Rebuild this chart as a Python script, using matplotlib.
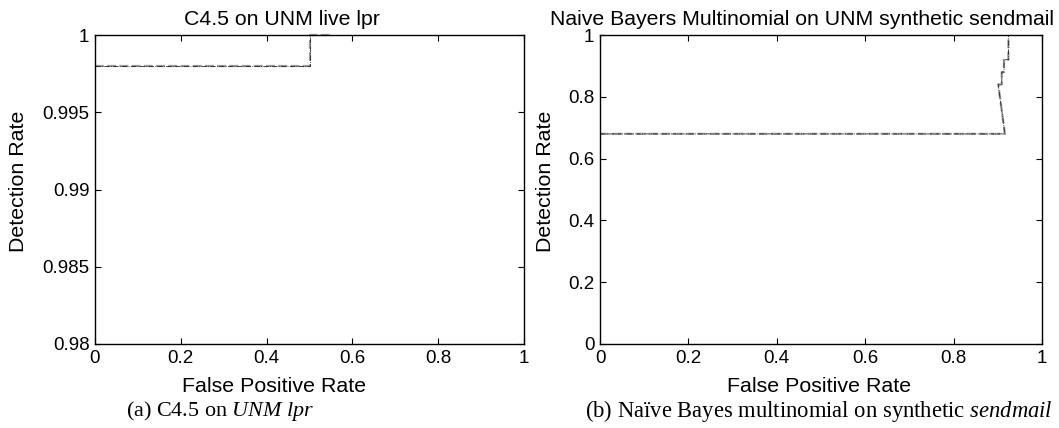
import matplotlib.pyplot as plt

plt.rcParams["font.family"] = ["Liberation Sans", "DejaVu Sans"]
plt.rcParams["mathtext.fontset"] = "custom"
plt.rcParams["mathtext.rm"] = "Liberation Serif"
plt.rcParams["mathtext.it"] = "Liberation Serif:italic"

# (a) C4.5 on UNM lpr
lpr_fpr = [0.0, 0.5, 0.5, 0.55]
lpr_tpr = [0.998, 0.998, 1.0, 1.0]
lpr_yticks = [0.98, 0.985, 0.99, 0.995, 1.0]
lpr_yticklabels = ["0.98", "0.985", "0.99", "0.995", "1"]

# (b) Naive Bayes multinomial on synthetic sendmail
smail_fpr = [0.0, 0.916, 0.901, 0.909, 0.909, 0.914, 0.914, 0.924, 0.924]
smail_tpr = [0.68, 0.68, 0.84, 0.84, 0.88, 0.88, 0.92, 0.92, 1.0]
smail_yticks = [0, 0.2, 0.4, 0.6, 0.8, 1.0]
smail_yticklabels = ["0", "0.2", "0.4", "0.6", "0.8", "1"]

xticks = [0, 0.2, 0.4, 0.6, 0.8, 1.0]
xticklabels = ["0", "0.2", "0.4", "0.6", "0.8", "1"]

W, H = 1059, 428
fig = plt.figure(figsize=(W / 100, H / 100), dpi=100)
ax1 = fig.add_axes([95 / W, 1 - 344 / H, 429 / W, 309 / H])
ax2 = fig.add_axes([600 / W, 1 - 344 / H, 442 / W, 309 / H])


def style_axes(ax, yticks, yticklabels, ylim, title, title_x, xlab_x, ylab_x):
    ax.set_xlim(0, 1)
    ax.set_ylim(*ylim)
    ax.set_xticks(xticks)
    ax.set_xticklabels(xticklabels)
    ax.set_yticks(yticks)
    ax.set_yticklabels(yticklabels)
    ax.tick_params(direction="in", top=True, right=True, length=4,
                   labelsize=13.5, pad=4, width=0.8)
    for sp in ax.spines.values():
        sp.set_linewidth(1.0)
    ax.set_title(title, fontsize=15.3, x=title_x, pad=7.5)
    ax.set_xlabel("False Positive Rate", fontsize=15.4)
    ax.set_ylabel("Detection Rate", fontsize=15.4)
    ax.xaxis.label.set_va("center")
    ax.yaxis.label.set_va("center")
    ax.xaxis.set_label_coords(xlab_x, -(387 - 344) / 309)
    ax.yaxis.set_label_coords(ylab_x, 0.527)


def draw_curve(ax, x, y):
    ax.plot(x, y, color="#9a9a9a", linestyle=(0, (4, 1.5)), linewidth=1.6,
            clip_on=False)
    ax.plot(x, y, color="#222222", linestyle="-.", linewidth=0.6,
            clip_on=False)


draw_curve(ax1, lpr_fpr, lpr_tpr)
style_axes(ax1, lpr_yticks, lpr_yticklabels, (0.98, 1.0),
           "C4.5 on UNM live lpr", 0.435, 0.418, -0.178)

draw_curve(ax2, smail_fpr, smail_tpr)
style_axes(ax2, smail_yticks, smail_yticklabels, (0, 1.0),
           "Naive Bayers Multinomial on UNM synthetic sendmail", 0.458, 0.496,
           -0.124)

captions = [
    ("(a) C4.5 on $\\mathit{UNM\\ lpr}$", 220, 189),
    ("(b) Naïve Bayes multinomial on synthetic $\\mathit{sendmail}$", 819, 470),
]
renderer = fig.canvas.get_renderer()
for text, cx, width in captions:
    t = fig.text(cx / W, 1 - 411 / H, text, family=["Liberation Serif"],
                 fontsize=10, ha="center", va="center")
    w = t.get_window_extent(renderer).width
    t.set_fontsize(10 * width / w)

fig.savefig("out.png", dpi=100)
